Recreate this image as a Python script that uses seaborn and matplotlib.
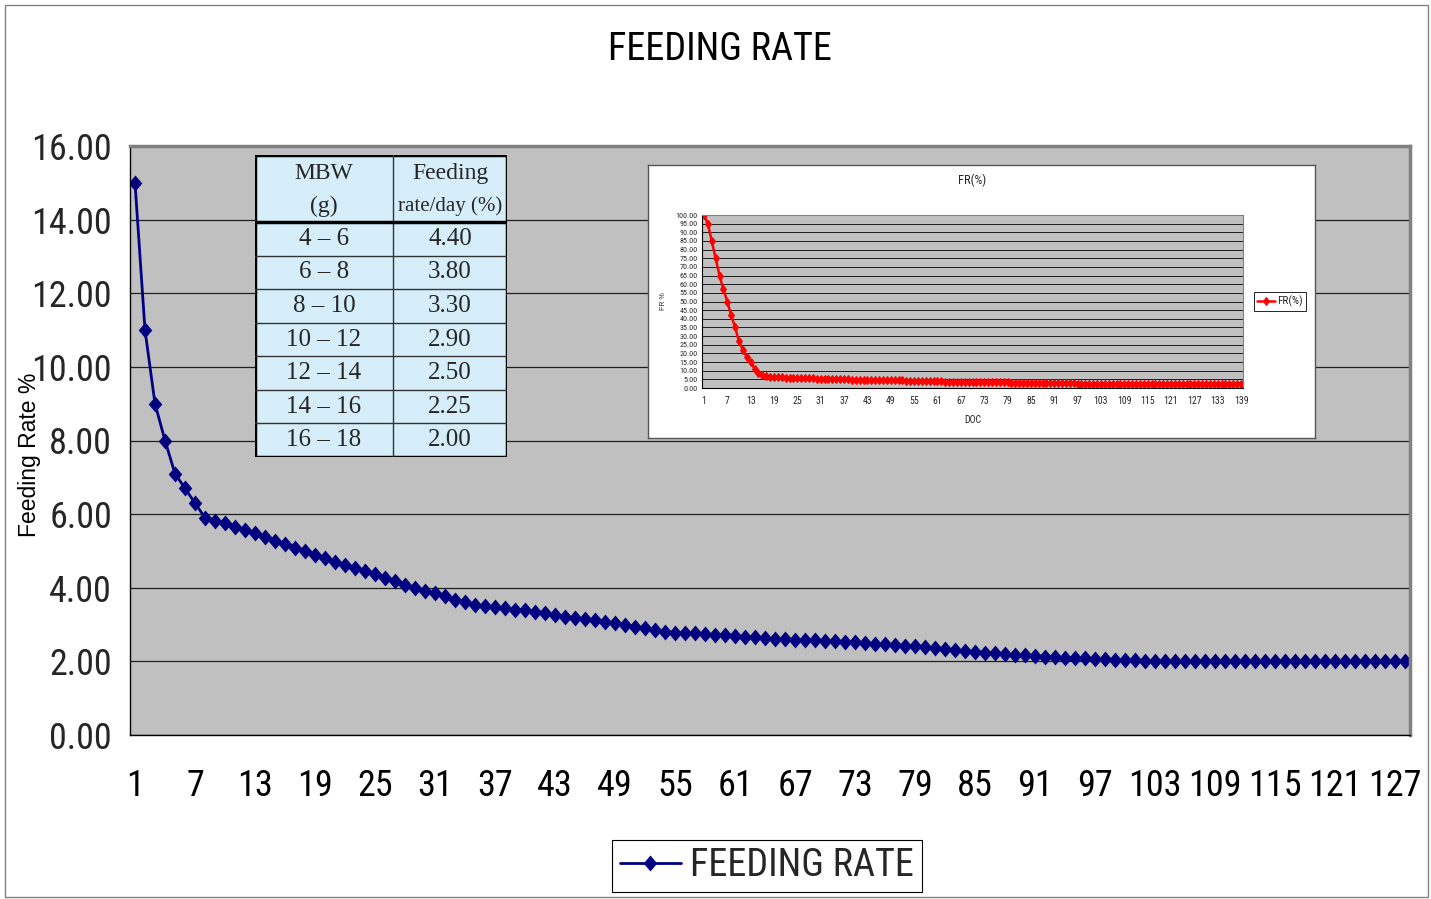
import numpy as np
import pandas as pd
import seaborn as sns
from matplotlib import pyplot as plt
from matplotlib import font_manager
from matplotlib.patches import Rectangle

# main series: feeding rate (%) per day of culture
days = np.arange(1, 129)
feeding_rate = [15.00, 11.00, 9.00, 8.00, 7.10, 6.70, 6.30, 5.90, 5.80, 5.75,
                5.66, 5.57, 5.48, 5.39, 5.28, 5.19, 5.09, 5.00, 4.89, 4.80,
                4.71, 4.62, 4.55, 4.46, 4.38, 4.26, 4.17, 4.08, 3.99, 3.90,
                3.85, 3.78, 3.67, 3.60, 3.53, 3.50, 3.49, 3.44, 3.40, 3.40,
                3.35, 3.32, 3.26, 3.21, 3.19, 3.14, 3.12, 3.08, 3.05, 2.99,
                2.94, 2.92, 2.85, 2.81, 2.78, 2.76, 2.76, 2.74, 2.72, 2.72,
                2.69, 2.67, 2.65, 2.63, 2.62, 2.60, 2.59, 2.58, 2.57, 2.55,
                2.54, 2.53, 2.52, 2.50, 2.48, 2.46, 2.45, 2.43, 2.41, 2.38,
                2.35, 2.33, 2.30, 2.28, 2.26, 2.24, 2.22, 2.20, 2.18, 2.17,
                2.15, 2.13, 2.12, 2.10, 2.09, 2.08, 2.07, 2.06, 2.05, 2.04,
                2.03, 2.02, 2.01, 2.00, 2.00, 2.00, 2.00, 2.00, 2.00, 2.00,
                2.00, 2.00, 2.00, 2.00, 2.00, 2.00, 2.00, 2.00, 2.00, 2.00,
                2.00, 2.00, 2.00, 2.00, 2.00, 2.00, 2.00, 2.00]
x_labels = [str(d) for d in range(1, 128, 6)]
y_ticks = [0, 2, 4, 6, 8, 10, 12, 14, 16]

# inset table
mbw_ranges = ['4 – 6', '6 – 8', '8 – 10', '10 – 12', '12 – 14', '14 – 16', '16 – 18']
table_rates = ['4.40', '3.80', '3.30', '2.90', '2.50', '2.25', '2.00']

# inset chart FR(%) per DOC
doc = np.arange(1, 140)
fr_pct = [100, 95, 85, 75, 65, 57, 50, 42, 35, 27, 22, 18, 15, 11, 8.5, 7.5, 7.0, 6.5,
          6.3, 6.2, 6.1, 6.0, 6.0, 5.9, 5.8, 5.7, 5.6, 5.5, 5.5, 5.4,
          5.3, 5.3, 5.2, 5.2, 5.1, 5.1, 5.0, 5.0, 4.9, 4.9, 4.8, 4.8,
          4.7, 4.7, 4.6, 4.6, 4.5, 4.5, 4.5, 4.4, 4.4, 4.4, 4.3, 4.3,
          4.0, 4.0, 3.9, 3.9, 3.9, 3.8, 3.8, 3.8, 3.7, 3.7, 3.7, 3.6,
          3.6, 3.6, 3.6, 3.5, 3.5, 3.5,
          3.3, 3.3, 3.3, 3.2, 3.2, 3.2, 3.2, 3.1, 3.1, 3.1, 3.1, 3.0,
          3.0, 3.0, 3.0, 3.0, 2.9, 2.9, 2.9, 2.9, 2.9, 2.9, 2.8, 2.8,
          2.5, 2.5, 2.5, 2.5, 2.5, 2.5, 2.5, 2.5, 2.5, 2.5, 2.5, 2.5,
          2.5, 2.5, 2.5, 2.5, 2.5, 2.5, 2.5, 2.5, 2.5, 2.5, 2.5, 2.5,
          2.5, 2.5, 2.5, 2.5, 2.5, 2.5, 2.5, 2.5, 2.5, 2.5, 2.5, 2.5,
          2.5, 2.5, 2.5, 2.5, 2.5, 2.5, 2.5]
doc_labels = [str(d) for d in range(1, 140, 6)]

W, H = 1431, 899

sns.set_theme(style='white')
plt.rcParams['font.family'] = ['Liberation Sans', 'DejaVu Sans']


def find_narrow():
    # look for a condensed sans face (Excel used Arial Narrow-like glyphs)
    fonts = font_manager.fontManager.ttflist
    prefs = ['Liberation Sans Narrow', 'Arial Narrow', 'Roboto Condensed',
             'Open Sans Condensed', 'Noto Sans Condensed']
    for p in prefs:
        for f in fonts:
            if f.name == p and f.weight in (400, 'normal', 'regular') and f.style == 'normal':
                return f.fname
    for f in fonts:
        fn = f.fname.lower()
        if ('condensed' in fn or 'narrow' in fn) and 'bold' not in fn and 'oblique' not in fn \
                and 'italic' not in fn and 'mono' not in fn and 'serif' not in fn:
            return f.fname
    for f in fonts:
        if str(f.stretch) in ('condensed', 'semi-condensed', '75', '87') and f.style == 'normal':
            return f.fname
    return None


narrow_file = find_narrow()
if narrow_file:
    def nfp(size):
        return font_manager.FontProperties(fname=narrow_file, size=size)
    k = 1.0
else:
    def nfp(size):
        return font_manager.FontProperties(family='DejaVu Sans', size=size)
    k = 0.78

serif = ['Liberation Serif', 'DejaVu Serif']
# slightly tall diamond like the excel marker
diamond = [(0, 1), (0.85, 0), (0, -1), (-0.85, 0), (0, 1)]


def fig_rect(x0, y0, x1, y1):
    # pixel box (top-left origin) -> figure fraction
    return [x0 / W, 1 - y1 / H, (x1 - x0) / W, (y1 - y0) / H]


fig = plt.figure(figsize=(W / 100, H / 100), dpi=100)
fig.patch.set_facecolor('white')
fig.patches.append(Rectangle((5 / W, 2 / H), 1423 / W, 892 / H, transform=fig.transFigure,
                             fill=False, edgecolor='#808080', lw=1))

# ---- main chart ----
ax = fig.add_axes(fig_rect(130, 146, 1410, 735))
df = pd.DataFrame({'day': days, 'rate': feeding_rate})
sns.lineplot(data=df, x='day', y='rate', ax=ax, color='#000080', lw=2,
             marker=diamond, markersize=11.5, markeredgewidth=0, markerfacecolor='#000080',
             label='FEEDING RATE', legend=False)
ax.set_facecolor('#C0C0C0')
ax.set_xlim(0.5, 128.5)
ax.set_ylim(0, 16)
ax.set_yticks(y_ticks)
ax.set_yticklabels(['%.2f' % v for v in y_ticks], fontproperties=nfp(26 * k))
ax.set_xticks(range(1, 128, 6))
ax.set_xticklabels(x_labels, fontproperties=nfp(26 * k))
ax.set_xticks(np.arange(0.5, 129, 1), minor=True)
ax.tick_params(axis='x', which='major', length=0, pad=24, colors='black')
ax.tick_params(axis='x', which='minor', length=7, width=0.8, color='black', direction='out')
ax.tick_params(axis='y', length=5, width=0.8, color='black', direction='out', pad=8)
ax.yaxis.grid(True, color='#202020', lw=0.9)
ax.set_axisbelow(True)
ax.set_xlabel('')
ax.set_ylabel('')
for side in ['left', 'bottom']:
    ax.spines[side].set_color('black')
    ax.spines[side].set_linewidth(1)
for side in ['top', 'right']:
    ax.spines[side].set_color('#808080')
    ax.spines[side].set_linewidth(2.5)

fig.text(720 / W, 1 - 50 / H, 'FEEDING RATE', ha='center', va='center',
         fontproperties=nfp(27.5 * k), color='black')
fig.text(30 / W, 1 - 455 / H, 'Feeding Rate %', rotation=90, ha='center', va='center',
         fontsize=16.5, color='black')

leg = fig.legend(loc='center', bbox_to_anchor=(767 / W, 1 - 866 / H), frameon=True,
                 fancybox=False, edgecolor='black', framealpha=1,
                 prop=nfp(27.5 * k), handlelength=1.6,
                 borderpad=0.2, handletextpad=0.25, borderaxespad=0)
leg.get_frame().set_linewidth(0.8)

# ---- inset table ----
tx = fig.add_axes(fig_rect(255, 155, 507, 457))
tx.set_zorder(3)
tx.set_xlim(0, 252)
tx.set_ylim(302, 0)
tx.axis('off')
head_h = 67
row_h = (302 - head_h) / len(mbw_ranges)
tx.add_patch(Rectangle((0, 0), 252, 302, facecolor='#D5EEFA', edgecolor='none'))
tx.text(69, 19, 'MBW', ha='center', va='center', family=serif, fontsize=17)
tx.text(69, 51, '(g)', ha='center', va='center', family=serif, fontsize=17)
tx.text(195, 19, 'Feeding', ha='center', va='center', family=serif, fontsize=17)
tx.text(195, 51, 'rate/day (%)', ha='center', va='center', family=serif, fontsize=15)
for i, (m, r) in enumerate(zip(mbw_ranges, table_rates)):
    yc = head_h + (i + 0.5) * row_h
    tx.text(69, yc, m, ha='center', va='center', family=serif, fontsize=18)
    tx.text(195, yc, r, ha='center', va='center', family=serif, fontsize=18)
    if i > 0:
        tx.plot([0, 252], [head_h + i * row_h] * 2, color='#333333', lw=1)
tx.plot([138, 138], [0, 302], color='#333333', lw=1)
tx.plot([0, 252], [head_h, head_h], color='black', lw=2.5)
tx.add_patch(Rectangle((0, 0), 252, 302, fill=False, edgecolor='black', lw=2.5))

# ---- inset chart ----
card = fig.add_axes(fig_rect(648, 165, 1315, 438))
card.set_zorder(2)
card.set_xticks([])
card.set_yticks([])
card.set_facecolor('white')
for s in card.spines.values():
    s.set_color('#555555')
    s.set_linewidth(1)

ix = fig.add_axes(fig_rect(702, 215, 1243, 388))
ix.set_zorder(3)
dfi = pd.DataFrame({'doc': doc, 'fr': fr_pct})
sns.lineplot(data=dfi, x='doc', y='fr', ax=ix, color='red', lw=1.8, marker='d',
             markersize=4.5, markeredgecolor='red', label='FR(%)', legend=False)
ix.set_facecolor('#C0C0C0')
ix.set_xlim(0.5, 139.5)
ix.set_ylim(0, 100)
ix.set_yticks(range(0, 101, 5))
ix.set_yticklabels(['%.2f' % v for v in range(0, 101, 5)], fontproperties=nfp(5.8 * k))
ix.set_xticks(range(1, 140, 6))
ix.set_xticklabels(doc_labels, fontproperties=nfp(7 * k))
ix.set_xticks(np.arange(0.5, 140, 1), minor=True)
ix.tick_params(axis='x', which='major', length=0, pad=6)
ix.tick_params(axis='x', which='minor', length=3, width=0.5, color='black', direction='out')
ix.tick_params(axis='y', length=2, width=0.5, color='black', direction='out', pad=1)
ix.yaxis.grid(True, color='black', lw=0.6)
ix.set_axisbelow(True)
ix.set_xlabel('DOC', fontproperties=nfp(7 * k), labelpad=6)
ix.set_ylabel('FR %', fontsize=5, labelpad=6)
for s in ix.spines.values():
    s.set_color('#808080')
    s.set_linewidth(0.8)
ix.spines['left'].set_color('black')
ix.spines['bottom'].set_color('black')
ix.set_title('FR(%)', fontproperties=nfp(9 * k), pad=22)
lg = ix.legend(loc='center left', bbox_to_anchor=(1.01, 0.5), frameon=True, fancybox=False,
               edgecolor='black', framealpha=1, prop=nfp(8 * k),
               handlelength=1.6, borderpad=0.3, handletextpad=0.2)
lg.get_frame().set_linewidth(0.6)

fig.savefig('out.png', dpi=100)
